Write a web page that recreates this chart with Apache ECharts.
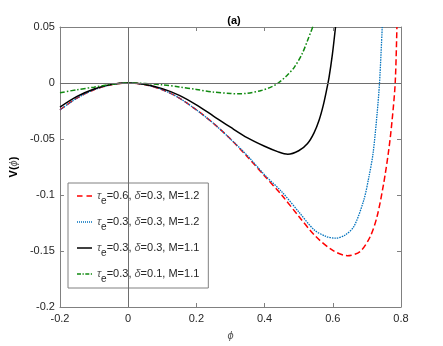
<!DOCTYPE html>
<html><head><meta charset="utf-8">
<script src="https://cdn.jsdelivr.net/npm/echarts@6/dist/echarts.min.js"></script>
<style>html,body{margin:0;padding:0;background:#fff}#c{width:443px;height:346px}</style>
</head><body><div id="c"></div>
<script>
// ---- data ----
const tauValues = ['0.6', '0.3', '0.3', '0.3'];
const deltaValues = ['0.3', '0.3', '0.3', '0.1'];
const machValues = ['1.2', '1.2', '1.1', '1.1'];

const redPts = [[-0.2,-0.024],[-0.15,-0.0135],[-0.1,-0.006],[-0.05,-0.0015],[0,0],[0.05,-0.0015],[0.1,-0.006],[0.15,-0.0135],[0.2,-0.024],[0.25,-0.036],[0.3,-0.05],[0.35,-0.066],[0.4,-0.083],[0.45,-0.1],[0.5,-0.119],[0.55,-0.137],[0.6,-0.1495],[0.643,-0.1542],[0.68,-0.1505],[0.71,-0.137],[0.73,-0.119],[0.749,-0.09],[0.764,-0.06],[0.774,-0.033],[0.783,0],[0.788,0.05]];
const bluePts = [[-0.2,-0.024],[-0.15,-0.0135],[-0.1,-0.006],[-0.05,-0.0015],[0,0],[0.05,-0.0015],[0.1,-0.006],[0.15,-0.0135],[0.2,-0.024],[0.25,-0.036],[0.3,-0.05],[0.35,-0.065],[0.4,-0.082],[0.45,-0.097],[0.5,-0.115],[0.545,-0.131],[0.58,-0.137],[0.608,-0.1385],[0.635,-0.136],[0.662,-0.128],[0.691,-0.1044],[0.706,-0.0837],[0.718,-0.063],[0.73,-0.027],[0.737,0],[0.745,0.05]];
const blackPts = [[-0.2,-0.0215],[-0.15,-0.012],[-0.1,-0.0053],[-0.05,-0.0013],[0,0],[0.05,-0.0013],[0.1,-0.005],[0.15,-0.011],[0.2,-0.0195],[0.25,-0.0295],[0.3,-0.0395],[0.35,-0.049],[0.4,-0.0565],[0.44,-0.0615],[0.468,-0.0636],[0.5,-0.0605],[0.526,-0.054],[0.545,-0.0445],[0.56,-0.033],[0.572,-0.02],[0.582,-0.006],[0.589,0.005],[0.599,0.026],[0.608,0.05]];
const greenPts = [[-0.2,-0.0087],[-0.15,-0.006],[-0.1,-0.0037],[-0.05,-0.0012],[0,0],[0.05,-0.0005],[0.1,-0.0016],[0.15,-0.0035],[0.2,-0.0058],[0.25,-0.0081],[0.3,-0.0094],[0.322,-0.0096],[0.35,-0.0091],[0.39,-0.0067],[0.42,-0.0035],[0.44,0],[0.465,0.0065],[0.487,0.014],[0.51,0.026],[0.526,0.038],[0.545,0.053]];

const xMin = -0.2, xMax = 0.8, xStep = 0.2;
const yMin = -0.2, yMax = 0.05, yStep = 0.05;

const names = tauValues.map((t, i) => 'τe=' + t + ', δ=' + deltaValues[i] + ', M=' + machValues[i]);
const richByName = {};
names.forEach((n, i) => {
  richByName[n] = '{i|τ}{sub|e}{n|=' + tauValues[i] + ', }{i|δ}{n|=' + deltaValues[i] + ', M=' + machValues[i] + '}';
});

// legend line-style glyphs (15 x 1.5 units)
const legendIcons = [
  'path://M0,0h5.5v1.5h-5.5z M9.5,0h5.5v1.5h-5.5z',
  'path://M0,0h1v1.5h-1z M2,0h1v1.5h-1z M4,0h1v1.5h-1z M6,0h1v1.5h-1z M8,0h1v1.5h-1z M10,0h1v1.5h-1z M12,0h1v1.5h-1z M14,0h1v1.5h-1z',
  'path://M0,0h15v1.5h-15z',
  'path://M0,0h4v1.5h-4z M5.5,0h1.3v1.5h-1.3z M8.3,0h4v1.5h-4z M13.8,0h1.2v1.5h-1.2z'
];

const FONT = 'Liberation Sans, Arial, sans-serif';
const AX = '#808080';
const TXT = '#262626';
const fmt = v => String(+(+v).toFixed(2));

const chart = echarts.init(document.getElementById('c'), null, {renderer: 'canvas'});

function lineSeries(name, pts, color, type, width) {
  return {
    name, type: 'line', data: pts, smooth: 0.3, showSymbol: false, symbol: 'none',
    clip: true, z: 3,
    lineStyle: {color, type, width}, itemStyle: {color}
  };
}

chart.setOption({
  animation: false,
  backgroundColor: '#fff',
  textStyle: {fontFamily: FONT},
  title: {
    text: '(a)', left: 229, top: 10, textAlign: 'center',
    textStyle: {fontSize: 11, fontWeight: 'bold', color: '#000', fontFamily: FONT}
  },
  grid: {left: 58, right: 42, top: 27, bottom: 38, containLabel: false},
  legend: {
    orient: 'vertical', left: 68, top: 183,
    data: names.map((n, i) => ({name: n, icon: legendIcons[i]})),
    padding: [3, 9, 4, 9],
    itemGap: 6, itemWidth: 15, itemHeight: 1.5,
    symbolKeepAspect: false,
    backgroundColor: '#fff', borderColor: AX, borderWidth: 1,
    formatter: n => richByName[n],
    textStyle: {
      fontFamily: FONT, fontSize: 11, color: TXT, lineHeight: 20,
      rich: {
        i: {fontStyle: 'italic', fontSize: 11, color: '#555', fontFamily: FONT, lineHeight: 20},
        n: {fontSize: 11, color: TXT, fontFamily: FONT, lineHeight: 20},
        sub: {fontSize: 10, color: TXT, fontFamily: FONT, lineHeight: 10, verticalAlign: 'bottom'}
      }
    }
  },
  xAxis: [{
    type: 'value', min: xMin, max: xMax, interval: xStep, position: 'bottom',
    axisLine: {show: true, onZero: false, lineStyle: {color: AX, width: 1}},
    axisTick: {show: true, inside: true, length: 4, lineStyle: {color: AX}},
    axisLabel: {color: TXT, fontSize: 11, margin: 6, formatter: fmt, fontFamily: FONT},
    splitLine: {show: false},
    name: 'ϕ', nameLocation: 'middle', nameGap: 23,
    nameTextStyle: {fontStyle: 'italic', fontSize: 11, color: '#555', fontFamily: FONT}
  }, {
    type: 'value', min: xMin, max: xMax, interval: xStep, position: 'top',
    axisLine: {show: true, onZero: false, lineStyle: {color: AX, width: 1}},
    axisTick: {show: true, inside: true, length: 4, lineStyle: {color: AX}},
    axisLabel: {show: false}, splitLine: {show: false}
  }],
  yAxis: [{
    type: 'value', min: yMin, max: yMax, interval: yStep, position: 'left',
    axisLine: {show: true, onZero: false, lineStyle: {color: AX, width: 1}},
    axisTick: {show: true, inside: true, length: 4, lineStyle: {color: AX}},
    axisLabel: {color: TXT, fontSize: 11, margin: 5, formatter: fmt, fontFamily: FONT},
    splitLine: {show: false},
    name: '{b|V(}{i|ϕ}{b|)}', nameLocation: 'middle', nameGap: 38,
    nameTextStyle: {
      rich: {
        b: {fontWeight: 'bold', fontSize: 11, color: '#000', fontFamily: FONT},
        i: {fontStyle: 'italic', fontSize: 11, color: '#555', fontFamily: FONT}
      }
    }
  }, {
    type: 'value', min: yMin, max: yMax, interval: yStep, position: 'right',
    axisLine: {show: true, onZero: false, lineStyle: {color: AX, width: 1}},
    axisTick: {show: true, inside: true, length: 4, lineStyle: {color: AX}},
    axisLabel: {show: false}, splitLine: {show: false}
  }],
  series: [
    {
      name: 'zero', type: 'line', data: [[0, 0]], showSymbol: false, symbol: 'none', z: 1,
      lineStyle: {width: 0},
      markLine: {
        silent: true, symbol: 'none', label: {show: false},
        lineStyle: {color: '#6e6e6e', type: 'solid', width: 1},
        data: [{xAxis: 0}, {yAxis: 0}],
        animation: false
      }
    },
    lineSeries(names[0], redPts, '#ff0000', [6, 3], 1.5),
    lineSeries(names[1], bluePts, '#0072bd', [1.5, 1], 1.3),
    lineSeries(names[2], blackPts, '#000000', 'solid', 1.5),
    lineSeries(names[3], greenPts, '#118a11', [5, 2, 1.5, 2], 1.5)
  ]
});
</script>
</body></html>
